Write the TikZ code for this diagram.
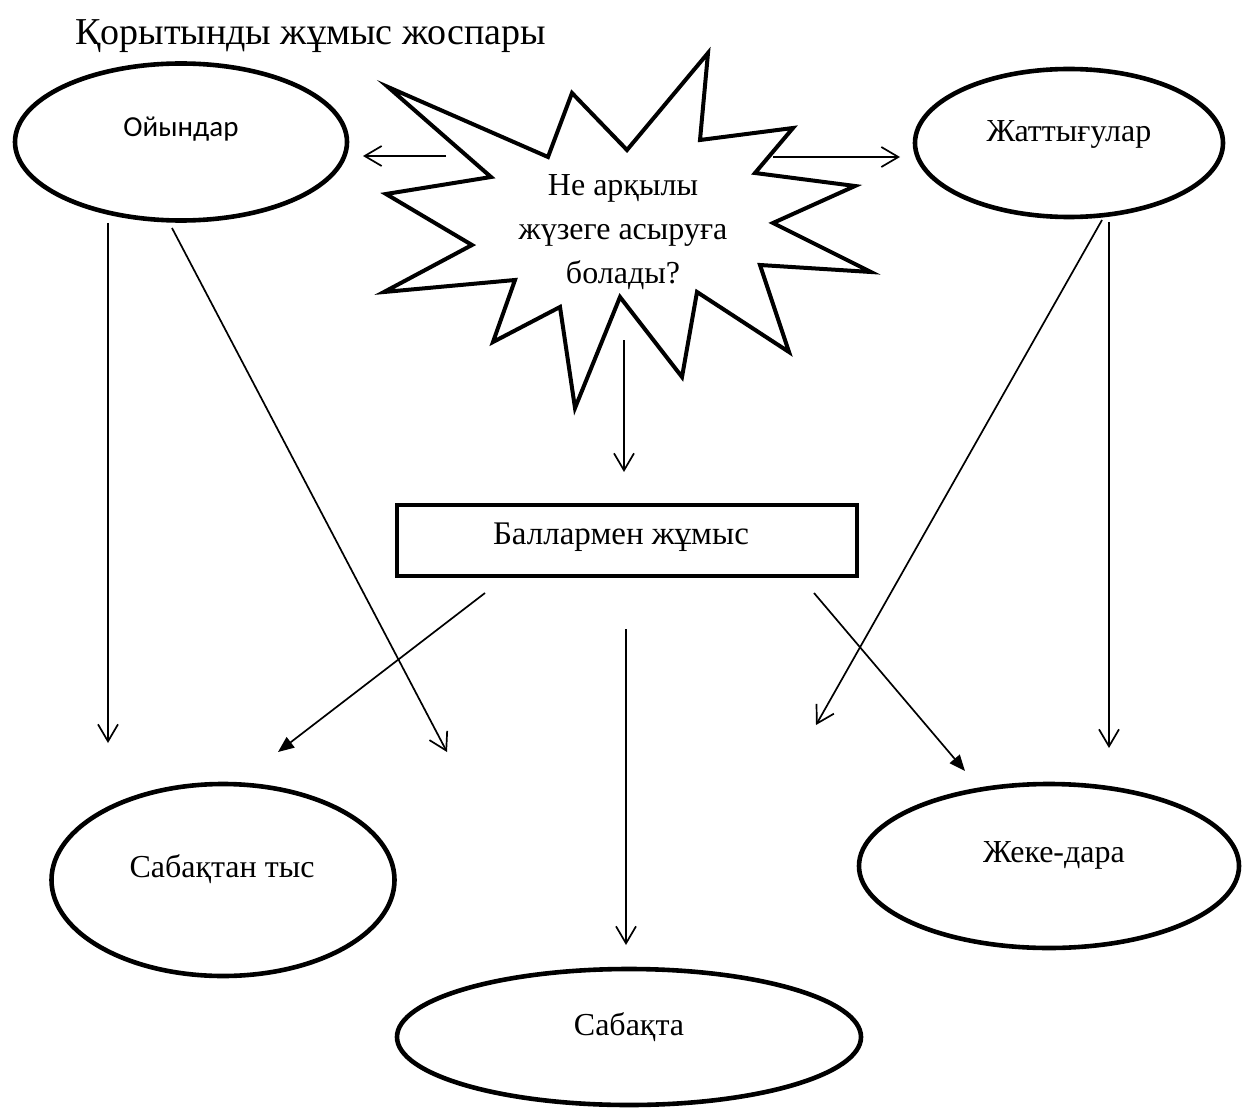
\documentclass[tikz,border=0pt]{standalone}
\usepackage{fontspec}
\setmainfont{Liberation Serif}
\newfontfamily\calibfont{Carlito}
\usetikzlibrary{arrows.meta,shapes.geometric}
\begin{document}
\begin{tikzpicture}[x=1pt,y=-1pt,
  ell/.style={draw, ellipse, line width=4.6pt, inner sep=0pt, outer sep=0pt},
  lbl/.style={anchor=base, inner sep=0pt, font=\fontsize{32}{38}\selectfont},
  con/.style={line width=1.7pt, -{Straight Barb[length=17pt,width=20pt]}},
  conf/.style={line width=1.7pt, -{Triangle[length=16pt,width=13pt]}},
]
\fill[white] (0,0) rectangle (1242,1110);
\useasboundingbox (0,0) rectangle (1242,1110);

% title
\node[anchor=base west, inner sep=0pt, font=\fontsize{38}{44}\selectfont] (title) at (75,45) {Қорытынды жұмыс жоспары};

% ellipses
\node[ell, minimum width=332pt, minimum height=157pt] (oyn) at (181,142) {};
\node[lbl, font=\calibfont\fontsize{29}{34}\selectfont] (toyn) at (181,137) {Ойындар};

\node[ell, minimum width=308pt, minimum height=148pt] (zhat) at (1069,143) {};
\node[lbl] (tzhat) at (1069,142) {Жаттығулар};

\node[ell, minimum width=343pt, minimum height=192pt] (sabtys) at (223,880) {};
\node[lbl] (tsabtys) at (222,877) {Сабақтан тыс};

\node[ell, minimum width=380pt, minimum height=164pt] (zheke) at (1049,866) {};
\node[lbl] (tzheke) at (1054,862) {Жеке-дара};

\node[ell, minimum width=464pt, minimum height=136pt] (sabakta) at (629,1037) {};
\node[lbl] (tsabakta) at (629,1035) {Сабақта};

% box
\node[draw, line width=4.5pt, inner sep=0pt, outer sep=0pt, minimum width=460pt, minimum height=71pt] (box) at (627,540.5) {};
\node[lbl, font=\fontsize{33}{38}\selectfont] (tbox) at (621,544) {Баллармен жұмыс};

% star
\draw[line width=4pt, fill=white] (388,87) -- (548,157) -- (572,93) -- (627,150) -- (708,53) -- (700,140) -- (793,128) -- (755,173) -- (855,186) -- (773,223) -- (871,272) -- (760,265) -- (789,352) -- (697,292) -- (682,377) -- (620,297) -- (575,408) -- (560,307) -- (493,342) -- (515,280) -- (384,292) -- (472,245) -- (386,194) -- (491,177) -- cycle;
\node[inner sep=0pt, align=center, font=\fontsize{32}{44}\selectfont] (star) at (623,232) {Не арқылы\\жүзеге асыруға\\болады?};

% connector end points
\coordinate (s1) at (446,156);
\coordinate (e1) at (363,156);
\coordinate (s2) at (773,157);
\coordinate (e2) at (900,157);
\coordinate (s3) at (624,340);
\coordinate (e3) at (624,472);
\coordinate (o1) at (108,223);
\coordinate (eo1) at (108,743);
\coordinate (o2) at (172,228);
\coordinate (eo2) at (447,752);
\coordinate (z1) at (1102,220);
\coordinate (ez1) at (816,725);
\coordinate (z2) at (1109,222);
\coordinate (ez2) at (1109,748);
\coordinate (b1) at (485,593);
\coordinate (eb1) at (278,752);
\coordinate (b2) at (626,629);
\coordinate (eb2) at (626,945);
\coordinate (b3) at (814,593);
\coordinate (eb3) at (965,771);

\draw[con] (s1) -- (e1);
\draw[con] (s2) -- (e2);
\draw[con] (s3) -- (e3);
\draw[con] (o1) -- (eo1);
\draw[con] (o2) -- (eo2);
\draw[con] (z1) -- (ez1);
\draw[con] (z2) -- (ez2);
\draw[conf] (b1) -- (eb1);
\draw[con] (b2) -- (eb2);
\draw[conf] (b3) -- (eb3);
\end{tikzpicture}
\end{document}
